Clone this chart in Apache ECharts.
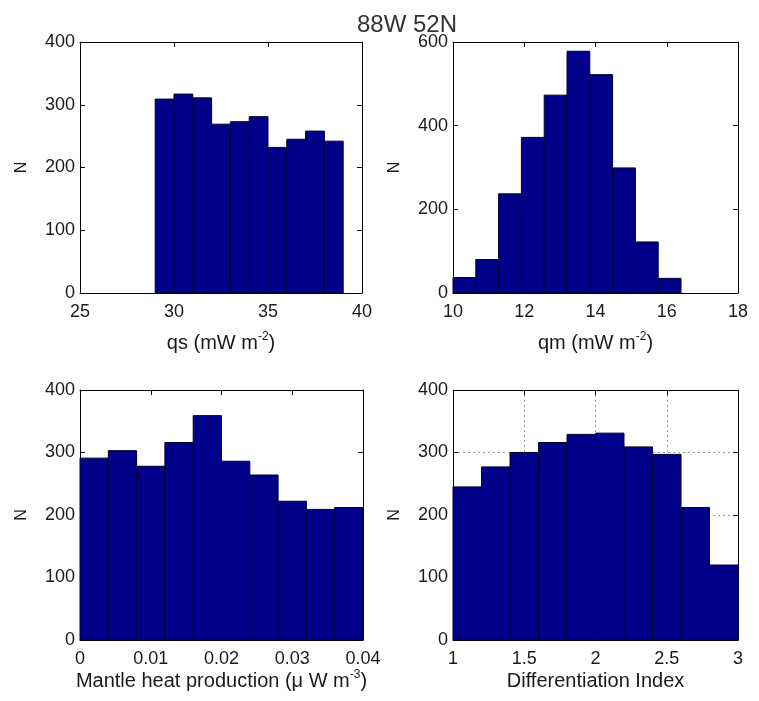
<!DOCTYPE html>
<html>
<head>
<meta charset="utf-8">
<script src="https://cdn.jsdelivr.net/npm/echarts@6/dist/echarts.min.js"></script>
<style>
html, body { margin: 0; padding: 0; background: #fff; }
#chart { width: 759px; height: 701px; }
</style>
</head>
<body>
<div id="chart"></div>
<script>
// Histogram bin edges and counts
const qsEdges = [29, 30, 31, 32, 33, 34, 35, 36, 37, 38, 39];
const qsCounts = [309, 317, 311, 269, 273, 281, 232, 245, 258, 242];

const qmEdges = [10, 10.64, 11.28, 11.92, 12.56, 13.2, 13.84, 14.48, 15.12, 15.76, 16.4];
const qmCounts = [37, 80, 237, 372, 473, 578, 522, 299, 122, 35];

const mhpEdges = [0, 0.004, 0.008, 0.012, 0.016, 0.02, 0.024, 0.028, 0.032, 0.036, 0.04];
const mhpCounts = [291, 303, 278, 316, 359, 286, 264, 222, 209, 212];

const diEdges = [1, 1.2, 1.4, 1.6, 1.8, 2, 2.2, 2.4, 2.6, 2.8, 3];
const diCounts = [245, 277, 300, 316, 329, 331, 309, 297, 212, 120];

const FONT = '"Liberation Sans", Arial, Helvetica, sans-serif';
const TXT = '#1a1a1a';

const panels = [
    { edges: qsEdges, counts: qsCounts, xMin: 25, xMax: 40, xStep: 5, yMax: 400, yStep: 100,
      name: '{t|qs (mW m}{s|-2}{t|)}', grid: { left: 80, top: 42, width: 282, height: 251 }, nameGap: 38, grid4: false },
    { edges: qmEdges, counts: qmCounts, xMin: 10, xMax: 18, xStep: 2, yMax: 600, yStep: 200,
      name: '{t|qm (mW m}{s|-2}{t|)}', grid: { left: 453, top: 42, width: 285, height: 251 }, nameGap: 38, grid4: false },
    { edges: mhpEdges, counts: mhpCounts, xMin: 0, xMax: 0.04, xStep: 0.01, yMax: 400, yStep: 100,
      name: '{t|Mantle heat production (μ W m}{s|-3}{t|)}', grid: { left: 80, top: 390, width: 283, height: 250 }, nameGap: 29, grid4: false },
    { edges: diEdges, counts: diCounts, xMin: 1, xMax: 3, xStep: 0.5, yMax: 400, yStep: 100,
      name: '{t|Differentiation Index}', grid: { left: 453, top: 390, width: 285, height: 250 }, nameGap: 29, grid4: true },
];

const grids = [], xAxes = [], yAxes = [], series = [];
const tick = { inside: true, length: 5, lineStyle: { color: '#000', width: 1 } };
const line = { show: true, onZero: false, lineStyle: { color: '#000', width: 1 } };
const dotted = { lineStyle: { color: '#9a9a9a', type: [2, 3], width: 1 } };

panels.forEach((p, i) => {
    grids.push(Object.assign({ containLabel: false }, p.grid));

    const xa = {
        gridIndex: i, type: 'value', min: p.xMin, max: p.xMax, interval: p.xStep,
        axisLine: line, axisTick: tick,
    };
    xAxes.push(Object.assign({}, xa, {
        position: 'bottom',
        axisLabel: { color: TXT, fontSize: 18, fontFamily: FONT, margin: 10 },
        splitLine: Object.assign({ show: p.grid4 }, dotted),
        name: p.name, nameLocation: 'middle', nameGap: p.nameGap,
        nameTextStyle: {
            rich: {
                t: { fontSize: 20, fontFamily: FONT, color: TXT, lineHeight: 24 },
                s: { fontSize: 12, fontFamily: FONT, color: TXT, verticalAlign: 'top', lineHeight: 14 },
            },
        },
    }));
    xAxes.push(Object.assign({}, xa, {
        position: 'top', axisLabel: { show: false }, splitLine: { show: false },
    }));

    const ya = {
        gridIndex: i, type: 'value', min: 0, max: p.yMax, interval: p.yStep,
        axisLine: line, axisTick: tick,
    };
    yAxes.push(Object.assign({}, ya, {
        position: 'left',
        axisLabel: { color: TXT, fontSize: 18, fontFamily: FONT, margin: 5 },
        splitLine: Object.assign({ show: p.grid4 }, dotted),
        name: 'N', nameLocation: 'middle', nameGap: 50, nameRotate: 90,
        nameTextStyle: { fontSize: 16, fontFamily: FONT, color: TXT },
    }));
    yAxes.push(Object.assign({}, ya, {
        position: 'right', axisLabel: { show: false }, splitLine: { show: false },
    }));

    const data = p.counts.map((c, k) => [p.edges[k], p.edges[k + 1], c]);
    series.push({
        type: 'custom',
        xAxisIndex: i * 2,
        yAxisIndex: i * 2,
        data: data,
        encode: { x: [0, 1], y: 2 },
        renderItem: (params, api) => {
            const a = api.coord([api.value(0), api.value(2)]);
            const b = api.coord([api.value(1), 0]);
            return {
                type: 'rect',
                shape: { x: a[0], y: a[1], width: b[0] - a[0], height: b[1] - a[1] },
                style: { fill: '#000088', stroke: '#000033', lineWidth: 1 },
            };
        },
    });
});

const chart = echarts.init(document.getElementById('chart'), null, { renderer: 'canvas' });
chart.setOption({
    backgroundColor: '#fff',
    animation: false,
    title: {
        text: '88W 52N', left: 352, top: 8,
        textStyle: { fontSize: 24, fontWeight: 'normal', fontFamily: FONT, color: '#333' },
    },
    grid: grids,
    xAxis: xAxes,
    yAxis: yAxes,
    series: series,
});
</script>
</body>
</html>
